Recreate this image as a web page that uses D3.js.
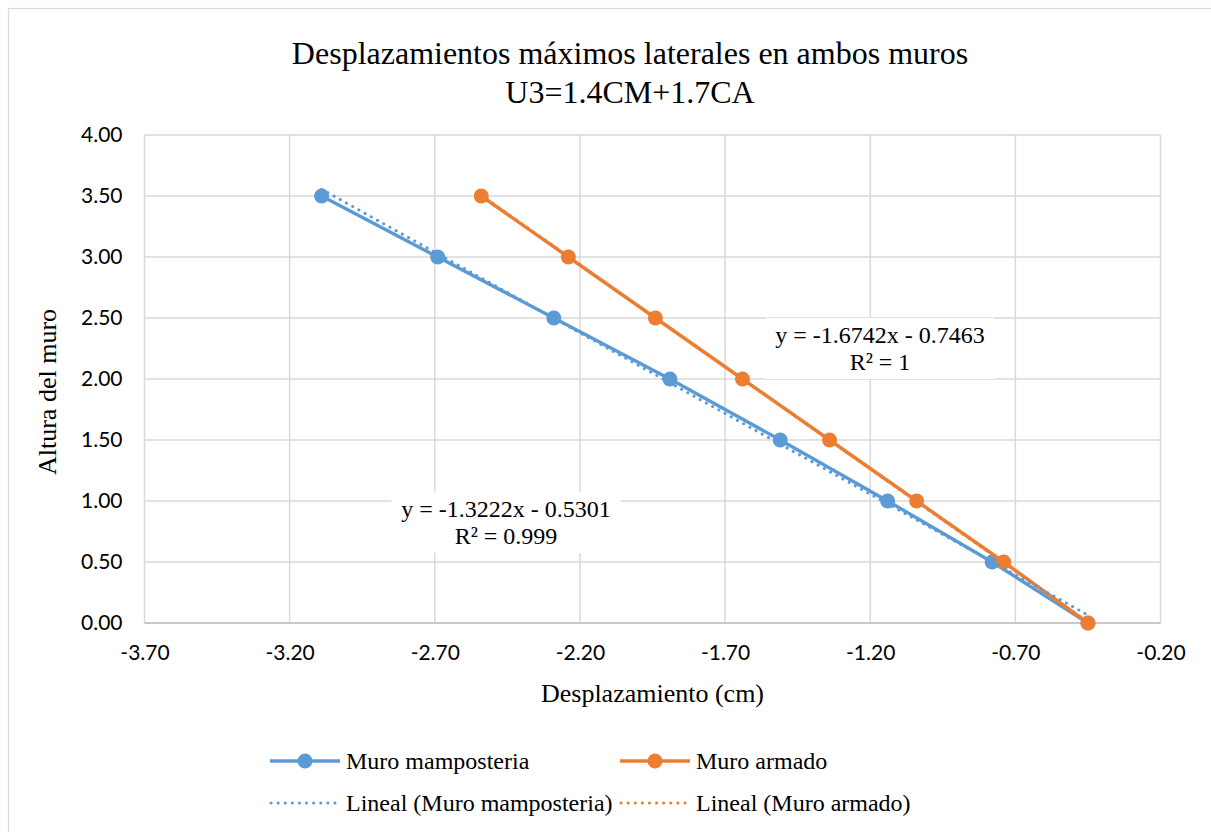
<!DOCTYPE html>
<html>
<head>
<meta charset="utf-8">
<script src="https://cdn.jsdelivr.net/npm/d3@7"></script>
<style>
  html, body { margin: 0; padding: 0; background: #ffffff; }
  svg { display: block; }
</style>
</head>
<body>
<svg id="chart" width="1211" height="832"></svg>
<script>
// Wall heights (m) and lateral displacements (cm) for each wall type
const heights = [0, 0.5, 1, 1.5, 2, 2.5, 3, 3.5];
const dispMamposteria = [-0.45, -0.78, -1.14, -1.51, -1.89, -2.29, -2.69, -3.09];
const dispArmado = [-0.45, -0.74, -1.04, -1.34, -1.64, -1.94, -2.24, -2.54];

const seriesNames = ["Muro mamposteria", "Muro armado"];
const seriesColors = ["#5B9BD5", "#ED7D31"];

// Linear trendlines y = slope * x + intercept
const trendSlopes = [-1.3222, -1.6742];
const trendIntercepts = [-0.5301, -0.7463];
const trendR2 = ["0.999", "1"];

const xTicks = [-3.7, -3.2, -2.7, -2.2, -1.7, -1.2, -0.7, -0.2];
const xTickLabels = ["-3.70", "-3.20", "-2.70", "-2.20", "-1.70", "-1.20", "-0.70", "-0.20"];
const yTicks = [0, 0.5, 1, 1.5, 2, 2.5, 3, 3.5, 4];
const yTickLabels = ["0.00", "0.50", "1.00", "1.50", "2.00", "2.50", "3.00", "3.50", "4.00"];

const titleLines = ["Desplazamientos máximos laterales en ambos muros", "U3=1.4CM+1.7CA"];
const xTitle = "Desplazamiento (cm)";
const yTitle = "Altura del muro";

const svg = d3.select("#chart");
const plot = { left: 144.5, right: 1160.5, top: 135, bottom: 623 };
const serif = "'Liberation Serif', 'Times New Roman', serif";
const sans = "Lato, 'Liberation Sans', sans-serif";
const gridColor = "#d9d9d9";
const markerR = 7.5;

// Chart area border
svg.append("rect")
  .attr("x", 8.5).attr("y", 8.5)
  .attr("width", 1300).attr("height", 1000)
  .attr("fill", "#ffffff")
  .attr("stroke", gridColor).attr("stroke-width", 1.2);

const x = d3.scaleLinear().domain([-3.7, -0.2]).range([plot.left, plot.right]);
const y = d3.scaleLinear().domain([0, 4]).range([plot.bottom, plot.top]);

// Gridlines
const grid = svg.append("g");
grid.selectAll("line.v").data(xTicks).join("line")
  .attr("x1", d => x(d)).attr("x2", d => x(d))
  .attr("y1", plot.top).attr("y2", plot.bottom)
  .attr("stroke", gridColor).attr("stroke-width", 1.5);
grid.selectAll("line.h").data(yTicks).join("line")
  .attr("x1", plot.left).attr("x2", plot.right)
  .attr("y1", d => y(d)).attr("y2", d => y(d))
  .attr("stroke", gridColor).attr("stroke-width", 1.5);

// Bottom axis line
svg.append("line")
  .attr("x1", plot.left).attr("x2", plot.right)
  .attr("y1", plot.bottom).attr("y2", plot.bottom)
  .attr("stroke", "#bfbfbf").attr("stroke-width", 1.5);

// Axes (labels only)
const xAxis = d3.axisBottom(x).tickValues(xTicks)
  .tickFormat((d, i) => xTickLabels[i]).tickSize(0).tickPadding(0);
const gx = svg.append("g").attr("transform", `translate(0,${plot.bottom + 22})`).call(xAxis);
gx.select(".domain").remove();
gx.selectAll("text")
  .attr("dy", "0.71em").attr("y", 0)
  .style("font-family", sans).style("font-size", "21px").attr("fill", "#000");

const yAxis = d3.axisLeft(y).tickValues(yTicks)
  .tickFormat((d, i) => yTickLabels[i]).tickSize(0).tickPadding(0);
const gy = svg.append("g").attr("transform", `translate(${plot.left - 22},0)`).call(yAxis);
gy.select(".domain").remove();
gy.selectAll("text")
  .style("font-family", sans).style("font-size", "21px").attr("fill", "#000");

// Series lines and markers
const seriesData = [dispMamposteria, dispArmado];
const line = d3.line().x(d => x(d[0])).y(d => y(d[1]));

seriesData.forEach((vals, s) => {
  const pts = vals.map((v, i) => [v, heights[i]]);
  svg.append("path")
    .datum(pts)
    .attr("d", line)
    .attr("fill", "none")
    .attr("stroke", seriesColors[s])
    .attr("stroke-width", 3.4)
    .attr("stroke-linejoin", "round");
  svg.append("g").selectAll("circle").data(pts).join("circle")
    .attr("cx", d => x(d[0])).attr("cy", d => y(d[1]))
    .attr("r", markerR)
    .attr("fill", seriesColors[s]);
});

// Trendlines over each series' displacement range
seriesData.forEach((vals, s) => {
  const [x0, x1] = d3.extent(vals);
  const pts = [x0, x1].map(v => [v, trendSlopes[s] * v + trendIntercepts[s]]);
  svg.append("path")
    .datum(pts)
    .attr("d", line)
    .attr("fill", "none")
    .attr("stroke", seriesColors[s])
    .attr("stroke-width", 3)
    .attr("stroke-linecap", "round")
    .attr("stroke-dasharray", "0.1,7");
});

// Trendline equation labels
const labelCenters = [[506, 522], [880, 348]];
trendSlopes.forEach((m, s) => {
  const b = trendIntercepts[s];
  const eq = `y = ${m.toFixed(4)}x ${b < 0 ? "-" : "+"} ${Math.abs(b).toFixed(4)}`;
  const g = svg.append("g");
  const bg = g.append("rect").attr("fill", "#ffffff");
  const t = g.append("text")
    .attr("text-anchor", "middle")
    .style("font-family", serif).style("font-size", "24px").attr("fill", "#000");
  const [cx, cy] = labelCenters[s];
  t.append("tspan").attr("x", cx).attr("y", cy - 5).text(eq);
  t.append("tspan").attr("x", cx).attr("y", cy + 22).text(`R\u00B2 = ${trendR2[s]}`);
  const bb = t.node().getBBox();
  bg.attr("x", bb.x - 10).attr("y", bb.y - 4)
    .attr("width", bb.width + 20).attr("height", bb.height + 8);
});

// Title
svg.append("g").selectAll("text").data(titleLines).join("text")
  .attr("x", 630).attr("y", (d, i) => 64 + i * 39)
  .attr("text-anchor", "middle")
  .style("font-family", serif).style("font-size", "32px").attr("fill", "#000")
  .text(d => d);

// Axis titles
svg.append("text")
  .attr("x", (plot.left + plot.right) / 2).attr("y", 702)
  .attr("text-anchor", "middle")
  .style("font-family", serif).style("font-size", "26px").attr("fill", "#000")
  .text(xTitle);
svg.append("text")
  .attr("transform", `translate(56,392) rotate(-90)`)
  .attr("text-anchor", "middle")
  .style("font-family", serif).style("font-size", "26px").attr("fill", "#000")
  .text(yTitle);

// Legend
const legendCols = [270, 620];
const legendRows = [761, 803];
const legendItems = [
  { s: 0, trend: false, label: seriesNames[0] },
  { s: 1, trend: false, label: seriesNames[1] },
  { s: 0, trend: true, label: `Lineal (${seriesNames[0]})` },
  { s: 1, trend: true, label: `Lineal (${seriesNames[1]})` }
];
legendItems.forEach((item, i) => {
  const lx = legendCols[i % 2];
  const ly = legendRows[Math.floor(i / 2)];
  const g = svg.append("g");
  if (item.trend) {
    g.append("line")
      .attr("x1", lx + 1).attr("x2", lx + 68).attr("y1", ly).attr("y2", ly)
      .attr("stroke", seriesColors[item.s]).attr("stroke-width", 3)
      .attr("stroke-linecap", "round").attr("stroke-dasharray", "0.1,7");
  } else {
    g.append("line")
      .attr("x1", lx).attr("x2", lx + 70).attr("y1", ly).attr("y2", ly)
      .attr("stroke", seriesColors[item.s]).attr("stroke-width", 3.4);
    g.append("circle").attr("cx", lx + 35).attr("cy", ly).attr("r", markerR)
      .attr("fill", seriesColors[item.s]);
  }
  g.append("text")
    .attr("x", lx + 76).attr("y", ly).attr("dy", "0.33em")
    .style("font-family", serif).style("font-size", "24px").attr("fill", "#000")
    .text(item.label);
});
</script>
</body>
</html>
